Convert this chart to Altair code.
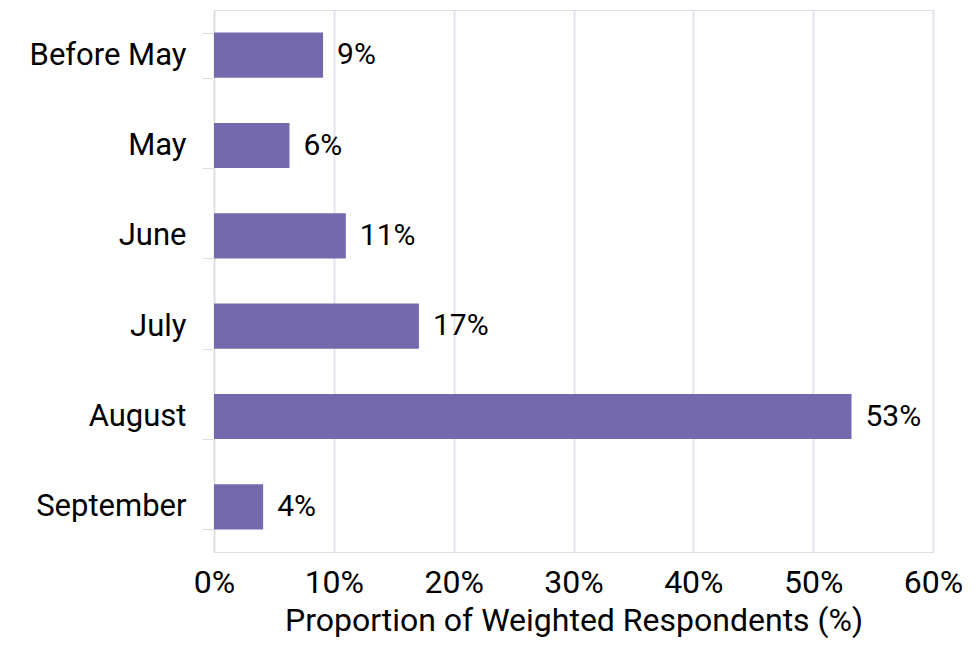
import altair as alt
import pandas as pd

categories = ["Before May", "May", "June", "July", "August", "September"]
values = [9.1, 6.3, 11.0, 17.1, 53.2, 4.1]
labels = ["9%", "6%", "11%", "17%", "53%", "4%"]
x_ticks = [0, 10, 20, 30, 40, 50, 60]

df = pd.DataFrame({"month": categories, "value": values, "label": labels})

font = "Roboto"

base = alt.Chart(df).encode(
    y=alt.Y(
        "month:N",
        sort=categories,
        title=None,
        scale=alt.Scale(paddingInner=0.5, paddingOuter=0.25),
        axis=alt.Axis(
            tickBand="extent",
            tickSize=12,
            tickColor="#dddddd",
            domainColor="#dddddd",
            labelFontSize=31,
            labelFont=font,
            labelFontWeight="normal",
            labelColor="#000000",
            labelPadding=16,
            grid=False,
        ),
    ),
    x=alt.X(
        "value:Q",
        title="Proportion of Weighted Respondents (%)",
        scale=alt.Scale(domain=[0, 60]),
        axis=alt.Axis(
            values=x_ticks,
            labelExpr="datum.value + '%'",
            labelFontSize=32,
            labelFont=font,
            labelFontWeight="normal",
            labelColor="#000000",
            labelPadding=15,
            labelFlush=False,
            labelOverlap=False,
            ticks=False,
            domain=False,
            grid=True,
            gridColor="#e4e2f0",
            gridWidth=2,
            titleFontSize=32,
            titleFont=font,
            titleFontWeight="normal",
            titleColor="#000000",
            titlePadding=7,
        ),
    ),
)

bars = base.mark_bar(color="#7569ae")
text = base.mark_text(
    align="left", baseline="middle", dx=14, fontSize=30, font=font, fontWeight="normal", color="#000000"
).encode(text="label:N")

chart = (
    alt.layer(bars, text)
    .properties(
        width=719,
        height=542,
        autosize=alt.AutoSizeParams(type="none"),
        padding={"left": 206, "top": 2, "right": 35, "bottom": 92},
    )
    .configure_view(stroke="transparent", strokeWidth=0)
    .configure(background="white")
)

chart.save("out.html", embed_options={"renderer": "svg", "actions": False})
